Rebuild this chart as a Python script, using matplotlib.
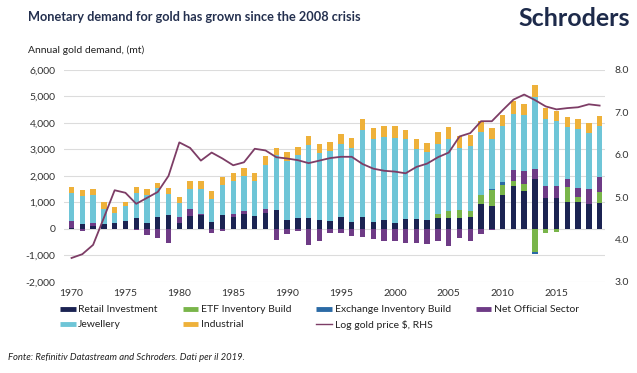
import matplotlib
matplotlib.use("Agg")
import matplotlib.pyplot as plt
from matplotlib.lines import Line2D
import numpy as np

plt.rcParams['font.family'] = ['Lato', 'DejaVu Sans']

years = list(range(1970, 2020))

retail = [40, 165, 90, 165, 225, 290, 415, 225, 455, 505,
          215, 480, 505, 250, 505, 440, 565, 465, 590, 695,
          350, 400, 400, 315, 280, 430, 250, 455, 250, 350,
          215, 380, 365, 315, 420, 415, 415, 440, 920, 860,
          1260, 1600, 1410, 1865, 1170, 1170, 1010, 1010, 920, 970]
etf = [0] * 34 + [130, 250, 300, 250, 340, 590,
                  380, 200, 265, -880, -150, -120, 565, 190, 25, 415]
exchange = [0] * 39 + [60, 125, 0, 0, -90, 0, -20, 0, 0, 0, 0]
official = [250, -90, 125, 0, 0, 0, -40, -250, -340, -540,
            225, 250, 40, -150, -90, 100, 125, 0, 165, -440,
            -190, -100, -630, -465, -150, -165, -280, -315, -380, -480,
            -480, -540, -540, -590, -470, -655, -350, -480, -215, -30,
            0, 405, 505, 405, 430, 430, 315, 350, 540, 590]
jewellery = [1070, 1070, 1045, 565, 365, 565, 930, 1060, 1085, 820,
             530, 780, 945, 880, 1135, 1260, 1300, 1335, 1665, 2080,
             2200, 2400, 2750, 2550, 2660, 2785, 2810, 3260, 3150, 3110,
             3210, 3000, 2660, 2580, 2650, 2710, 2345, 2455, 2395, 1865,
             2100, 2115, 2105, 2710, 2530, 2455, 1950, 2205, 2130, 1900]
industrial = [215, 215, 250, 280, 225, 175, 225, 225, 200, 225,
              225, 280, 300, 290, 315, 300, 300, 300, 330, 280,
              340, 300, 340, 350, 340, 380, 380, 440, 400, 415,
              450, 365, 380, 340, 440, 465, 430, 415, 400, 430,
              440, 505, 440, 440, 430, 380, 380, 400, 390, 400]
log_price = [3.56, 3.65, 3.87, 4.51, 5.16, 5.10, 4.84, 4.98, 5.12, 5.50,
             6.29, 6.16, 5.86, 6.05, 5.91, 5.75, 5.82, 6.14, 6.10, 5.94,
             5.91, 5.87, 5.80, 5.86, 5.92, 5.95, 5.95, 5.78, 5.67, 5.62,
             5.60, 5.56, 5.71, 5.79, 5.94, 6.05, 6.43, 6.51, 6.79, 6.79,
             7.05, 7.30, 7.42, 7.29, 7.14, 7.07, 7.10, 7.12, 7.19, 7.16]

series_names = ["Retail Investment", "ETF Inventory Build", "Exchange Inventory Build",
                "Net Official Sector", "Jewellery", "Industrial"]
series_vals = [retail, etf, exchange, official, jewellery, industrial]
colors = ["#1b2352", "#79b54a", "#2b6aa5", "#6e3b86", "#6ec5d7", "#eeb13a"]
line_color = "#7d3d66"
line_label = "Log gold price $, RHS"

fig = plt.figure(figsize=(6.37, 3.73), dpi=100)
ax = fig.add_axes([64 / 637, 1 - 281.7 / 373, (605 - 64) / 637, (281.7 - 70) / 373])

x = np.array(years)
pos_base = np.zeros(len(years))
neg_base = np.zeros(len(years))
for vals, c in zip(series_vals, colors):
    v = np.array(vals, dtype=float)
    pos = np.where(v > 0, v, 0)
    neg = np.where(v < 0, v, 0)
    ax.bar(x, pos, bottom=pos_base, width=0.5, color=c, linewidth=0, zorder=3)
    ax.bar(x, neg, bottom=neg_base, width=0.5, color=c, linewidth=0, zorder=3)
    pos_base += pos
    neg_base += neg

ax.set_ylim(-2000, 6000)
ax.set_xlim(1969.3, 2019.5)
ax.set_yticks(range(-2000, 6001, 1000))
ax.set_yticklabels([f"{v:,}" for v in range(-2000, 6001, 1000)])
ax.set_xticks(range(1970, 2016, 5))
ax.grid(axis='y', color='#dcdcdc', linewidth=0.8, zorder=0)
ax.set_axisbelow(True)
for s in ax.spines.values():
    s.set_visible(False)
ax.tick_params(axis='both', length=0, labelsize=7.5, colors='#333333')
ax.tick_params(axis='y', pad=6)
ax.tick_params(axis='x', pad=5)

ax2 = ax.twinx()
ax2.plot(x, log_price, color=line_color, linewidth=1.3, zorder=5)
ax2.set_ylim(3, 8)
ax2.set_yticks([3, 4, 5, 6, 7, 8])
ax2.set_yticklabels([f"{v:.1f}" for v in [3, 4, 5, 6, 7, 8]])
for s in ax2.spines.values():
    s.set_visible(False)
ax2.tick_params(axis='y', length=0, labelsize=7.5, colors='#333333', pad=7)

fig.text(28 / 637, 1 - 17 / 373, "Monetary demand for gold has grown since the 2008 crisis",
         fontsize=9.2, fontweight='bold', color='#24304f', va='center', ha='left')
fig.text(630 / 637, 1 - 18 / 373, "Schroders", fontsize=18, fontweight='bold',
         color='#1d2a4a', va='center', ha='right')
fig.text(28 / 637, 1 - 50 / 373, "Annual gold demand, (mt)", fontsize=7.5,
         color='#222222', va='center', ha='left')
fig.text(8 / 637, 1 - 358 / 373, "Fonte: Refinitiv Datastream and Schroders. Dati per il 2019.",
         fontsize=6.8, style='italic', color='#222222', va='center', ha='left')

handles = {}
for name, c in zip(series_names, colors):
    handles[name] = Line2D([], [], color=c, linewidth=3.5, solid_capstyle='butt')
handles[line_label] = Line2D([], [], color=line_color, linewidth=1.0)
order = ["Retail Investment", "Jewellery", "ETF Inventory Build", "Industrial",
         "Exchange Inventory Build", line_label, "Net Official Sector"]
fig.legend([handles[k] for k in order], order, ncol=4, loc='upper left',
           bbox_to_anchor=(60 / 637, 1 - 305 / 373), frameon=False, fontsize=7.5,
           handlelength=1.5, handletextpad=0.25, columnspacing=2.4, labelspacing=0.55,
           borderpad=0, borderaxespad=0, labelcolor='#222222')

fig.savefig("out.png", dpi=100)
